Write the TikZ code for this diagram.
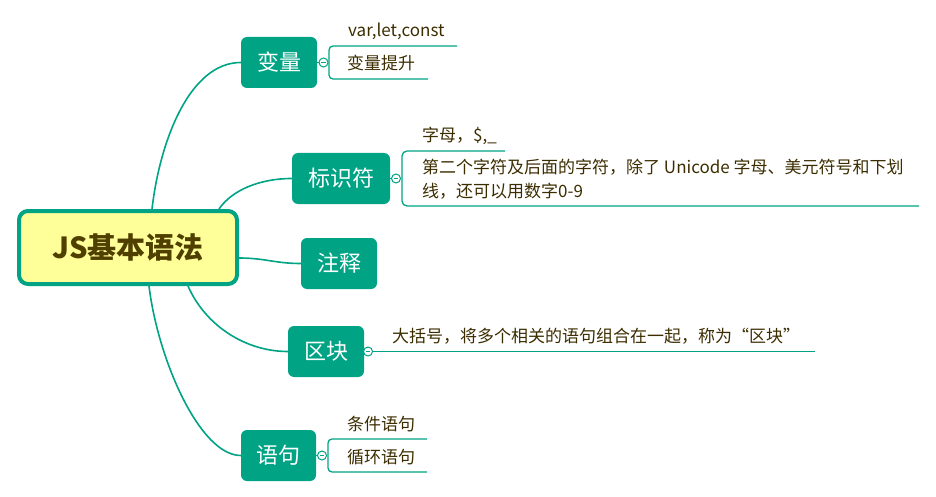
\documentclass[tikz,border=0pt]{standalone}
\usepackage{fontspec}
\setmainfont{Noto Sans CJK SC}
\definecolor{mmteal}{RGB}{0,163,132}
\definecolor{rootfill}{RGB}{255,255,153}
\definecolor{roottext}{RGB}{80,64,0}
\definecolor{subcol}{RGB}{60,45,0}
\begin{document}
\begin{tikzpicture}[x=1pt,y=-1pt,
 rootbox/.style={draw=mmteal,fill=rootfill,line width=4pt,rounded corners=9pt,minimum width=218pt,minimum height=73pt,inner sep=0pt,text=roottext,font=\fontsize{29}{34}\selectfont\bfseries},
 brbox/.style={fill=mmteal,rounded corners=6pt,minimum height=51pt,inner sep=0pt,text=white,font=\fontsize{22}{26}\selectfont},
 conn/.style={draw=mmteal,line width=1.6pt},
 subline/.style={draw=mmteal,line width=1.3pt,rounded corners=4pt},
 cbox/.style={circle,draw=mmteal,fill=white,line width=1pt,minimum size=9pt,inner sep=0pt,path picture={\draw[mmteal,line width=0.8pt] ([xshift=-2.2pt]path picture bounding box.center) -- ([xshift=2.2pt]path picture bounding box.center);}},
 subtxt/.style={anchor=base west,inner sep=0pt,text=subcol,font=\fontsize{17}{23}\selectfont}
]
\useasboundingbox (0,0) rectangle (936,497);

% root and main branches
\node[rootbox] (root) at (128,247.5) {JS基本语法};
\node[brbox,minimum width=76pt] (b1) at (279,62.5) {变量};
\node[brbox,minimum width=98pt] (b2) at (341,178.5) {标识符};
\node[brbox,minimum width=76pt] (b3) at (339,263.5) {注释};
\node[brbox,minimum width=76pt] (b4) at (326,351.5) {区块};
\node[brbox,minimum width=75pt] (b5) at (278.5,455.5) {语句};

% curved connectors
\draw[conn] ([xshift=24pt]root.north) .. controls (160,140) and (190,62.5) .. (b1.west);
\draw[conn] ([xshift=91pt]root.north) .. controls (232,190) and (260,178.5) .. (b2.west);
\draw[conn] ([yshift=-10.5pt]root.east) .. controls (265,258) and (275,263.5) .. (b3.west);
\draw[conn] ([xshift=60pt]root.south) .. controls (205,325) and (245,351.5) .. (b4.west);
\draw[conn] ([xshift=21pt]root.south) .. controls (158,360) and (200,455.5) .. (b5.west);

% 变量
\node[cbox] (c1) at (323.5,62.5) {};
\draw[conn,line width=1.3pt] (b1.east) -- (c1.west);
\coordinate (e11) at (457,46);
\coordinate (e12) at (428,79);
\draw[subline] (e11) -- (329,46) -- (329,79) -- (e12);
\node[subtxt] (t11) at (348,37) {var,let,const};
\node[subtxt] (t12) at (347,70) {变量提升};

% 标识符
\node[cbox] (c2) at (396,178.5) {};
\draw[conn,line width=1.3pt] (b2.east) -- (c2.west);
\coordinate (e21) at (505,151);
\coordinate (e22) at (919,206);
\draw[subline,rounded corners=5pt] (e21) -- (402,151) -- (402,206) -- (e22);
\node[subtxt] (t21) at (422,142) {字母，\$,\_};
\node[subtxt] (t22) at (422,174) {第二个字符及后面的字符，除了 Unicode 字母、美元符号和下划};
\node[subtxt] (t23) at (422,197) {线，还可以用数字0-9};

% 区块
\node[cbox] (c4) at (368,351.5) {};
\draw[conn,line width=1.3pt] (b4.east) -- (c4.west);
\coordinate (e4) at (815,351.5);
\draw[subline] (c4.east) -- (e4);
\node[subtxt] (t4) at (392,342) {大括号，将多个相关的语句组合在一起，称为“区块”};

% 语句
\node[cbox] (c5) at (322,455.5) {};
\draw[conn,line width=1.3pt] (b5.east) -- (c5.west);
\coordinate (e51) at (427,439);
\coordinate (e52) at (427,472);
\draw[subline] (e51) -- (328,439) -- (328,472) -- (e52);
\node[subtxt] (t51) at (347,430) {条件语句};
\node[subtxt] (t52) at (347,463) {循环语句};
\end{tikzpicture}
\end{document}
